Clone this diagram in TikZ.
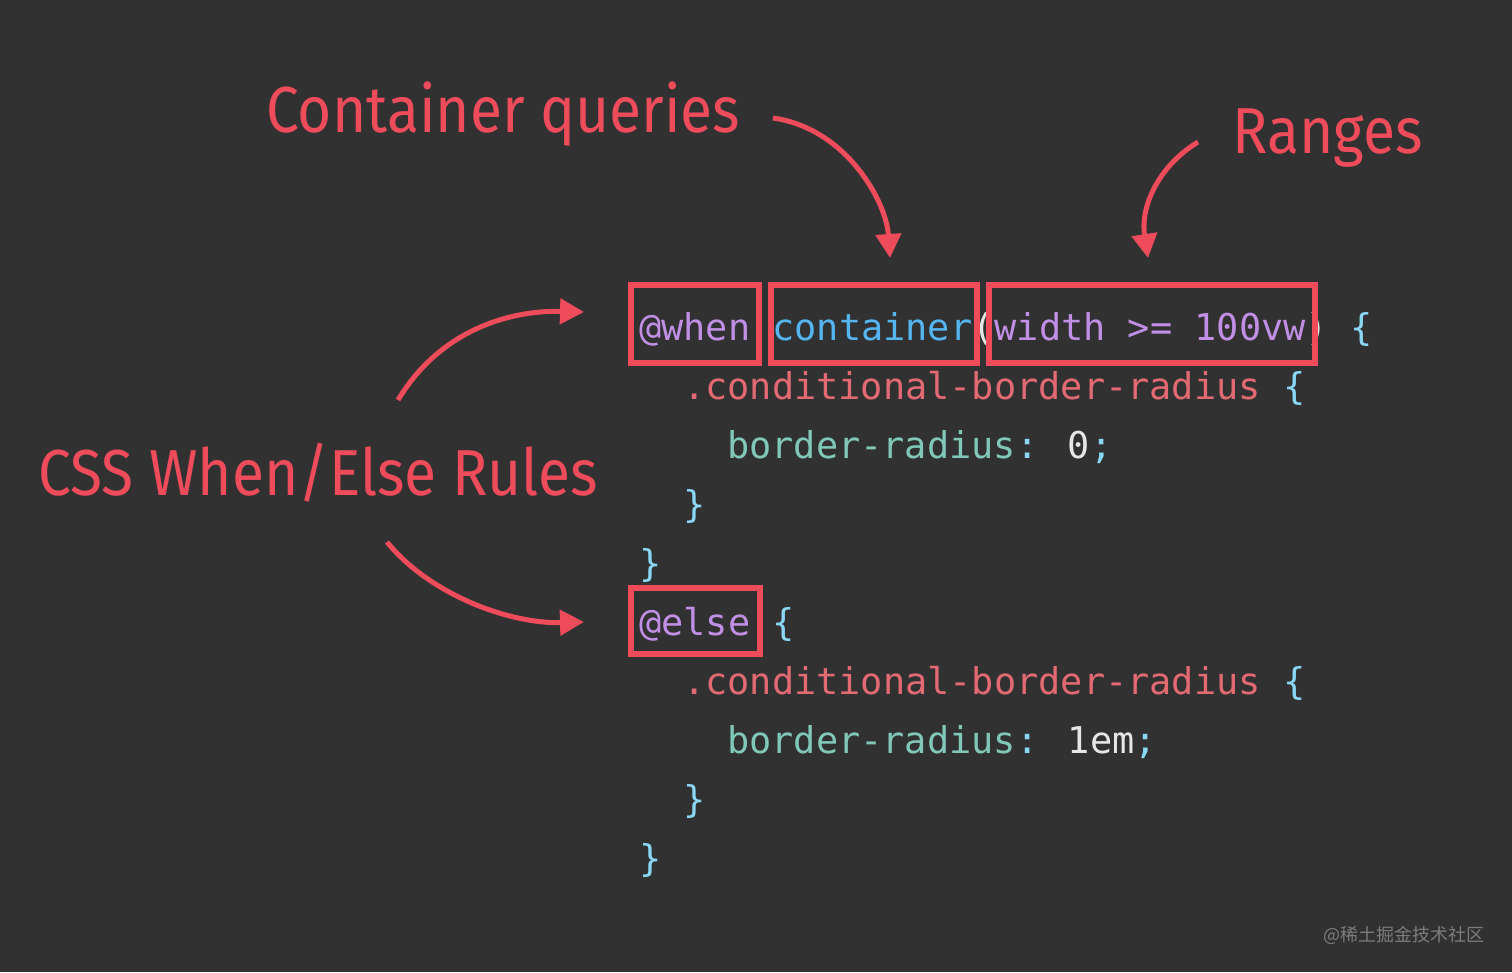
\documentclass[tikz,border=0pt]{standalone}
\usepackage{fontspec}
\setmainfont{Fira Sans}
\newfontfamily\labelfont[FakeStretch=0.903]{Fira Sans}
\newfontfamily\codefont{DejaVu Sans Mono}
\newfontfamily\cjkfont{Noto Sans CJK SC}
\usetikzlibrary{arrows.meta}
\definecolor{bg}{HTML}{313131}
\definecolor{hl}{HTML}{EE4B5B}
\definecolor{kw}{HTML}{C18FE6}
\definecolor{fn}{HTML}{54B5F0}
\definecolor{sel}{HTML}{E36A72}
\definecolor{prop}{HTML}{80C8B8}
\definecolor{punc}{HTML}{89D6F5}
\definecolor{val}{HTML}{E6E6E6}
\definecolor{wm}{HTML}{7C7C7C}
\tikzset{
  label/.style={text=hl, inner sep=0pt, anchor=base west, font=\labelfont\fontsize{65}{70}\selectfont},
  code/.style={inner sep=0pt, anchor=base west, font=\codefont\fontsize{36.9}{40}\selectfont},
  hlbox/.style={draw=hl, line width=6pt, inner sep=0pt},
  callout/.style={draw=hl, line width=5pt, -{Triangle[length=24pt,width=25pt]}},
}
\begin{document}
\begin{tikzpicture}[x=1pt,y=-1pt]
\fill[bg] (0,0) rectangle (1512,972);
\useasboundingbox (0,0) rectangle (1512,972);

% labels
\node[label] (lcq) at (266,132) {Container queries};
\node[label] (lrg) at (1232,153) {Ranges};
\node[label] (lcss) at (38,495) {CSS When/Else Rules};

% code
\node[code] (c1) at (639,340) {\color{kw}@when \color{fn}container\color{val}(\color{kw}width >= 100vw\color{val}) \color{punc}\{};
\node[code] (c2) at (683,399) {\color{sel}.conditional-border-radius \color{punc}\{};
\node[code] (c3) at (727,458) {\color{prop}border-radius\color{punc}: \color{val}0\color{punc};};
\node[code] (c4) at (683,517) {\color{punc}\}};
\node[code] (c5) at (639,576) {\color{punc}\}};
\node[code] (c6) at (639,635) {\color{kw}@else \color{punc}\{};
\node[code] (c7) at (683,694) {\color{sel}.conditional-border-radius \color{punc}\{};
\node[code] (c8) at (727,753) {\color{prop}border-radius\color{punc}: \color{val}1em\color{punc};};
\node[code] (c9) at (683,812) {\color{punc}\}};
\node[code] (c10) at (639,871) {\color{punc}\}};

% highlight boxes
\node[hlbox, minimum width=128pt, minimum height=78pt] (bwhen) at (695,324) {};
\node[hlbox, minimum width=206pt, minimum height=78pt] (bcont) at (874,324) {};
\node[hlbox, minimum width=326pt, minimum height=78pt] (bwidth) at (1152,324) {};
\node[hlbox, minimum width=129pt, minimum height=66pt] (belse) at (695.5,620.5) {};

% arrow end points
\coordinate (acqS) at (773,118);
\coordinate (acqE) at (890,258);
\coordinate (argS) at (1198,142);
\coordinate (argE) at (1148,258);
\coordinate (awS) at (398,400);
\coordinate (awE) at (584,312);
\coordinate (aeS) at (387,542);
\coordinate (aeE) at (584,622);

\draw[callout] (acqS) .. controls (845,128) and (886,200) .. (acqE);
\draw[callout] (argS) .. controls (1160,165) and (1140,205) .. (argE);
\draw[callout] (awS) .. controls (440,330) and (510,310) .. (awE);
\draw[callout] (aeS) .. controls (430,595) and (510,624) .. (aeE);

% watermark
\node[inner sep=0pt, anchor=base east, text=wm, font=\cjkfont\fontsize{18}{20}\selectfont] (wm) at (1485,941) {@稀土掘金技术社区};
\end{tikzpicture}
\end{document}
